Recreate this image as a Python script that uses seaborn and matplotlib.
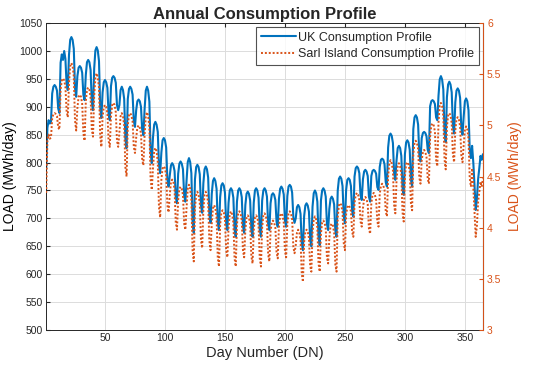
import matplotlib
matplotlib.use("Agg")
import matplotlib.pyplot as plt
import seaborn as sns
import numpy as np
import pandas as pd

# Daily UK load (MWh/day), day 1..365
uk_start = [790, 862, 876, 870, 874]
uk_weeks = [
    [924, 936, 939, 936, 929, 897, 889],
    [979, 994, 984, 1000, 986, 941, 930],
    [993, 1020, 1025, 1020, 1004, 934, 918],
    [955, 970, 973, 970, 961, 921, 912],
    [957, 980, 984, 980, 966, 908, 894],
    [969, 1001, 1007, 1001, 982, 899, 880],
    [926, 944, 948, 944, 934, 887, 876],
    [937, 952, 955, 952, 943, 903, 894],
    [903, 930, 936, 930, 914, 843, 826],
    [914, 932, 936, 932, 922, 875, 864],
    [894, 910, 913, 910, 900, 859, 849],
    [895, 929, 936, 929, 909, 820, 799],
    [845, 868, 873, 868, 855, 795, 781],
    [818, 840, 844, 840, 827, 770, 757],
    [777, 795, 799, 795, 785, 738, 727],
    [780, 798, 802, 798, 788, 741, 730],
    [768, 801, 808, 801, 781, 694, 674],
    [770, 792, 796, 792, 779, 723, 710],
    [763, 788, 793, 788, 773, 707, 692],
    [744, 767, 772, 767, 753, 693, 679],
    [738, 759, 763, 759, 746, 692, 679],
    [728, 750, 754, 750, 737, 680, 667],
    [730, 750, 754, 750, 738, 686, 674],
    [724, 744, 748, 744, 732, 679, 667],
    [728, 750, 754, 750, 737, 680, 667],
    [732, 750, 754, 750, 739, 690, 679],
    [727, 742, 745, 742, 733, 694, 685],
    [735, 753, 757, 753, 743, 696, 685],
    [740, 757, 760, 757, 746, 702, 692],
    [700, 720, 724, 720, 708, 655, 643],
    [704, 723, 727, 723, 712, 662, 650],
    [721, 745, 750, 745, 730, 667, 652],
    [732, 750, 754, 750, 739, 690, 679],
    [717, 735, 739, 735, 725, 678, 667],
    [750, 771, 775, 771, 758, 704, 691],
    [751, 769, 772, 769, 758, 713, 703],
    [775, 790, 793, 790, 781, 742, 733],
    [770, 784, 787, 784, 776, 739, 730],
    [776, 785, 787, 785, 780, 756, 751],
    [792, 805, 807, 805, 797, 765, 757],
    [827, 848, 852, 848, 835, 781, 769],
    [804, 826, 830, 826, 812, 755, 742],
    [815, 836, 840, 836, 823, 769, 757],
    [860, 881, 885, 881, 868, 814, 802],
    [844, 853, 855, 853, 847, 823, 817],
    [901, 910, 912, 910, 905, 881, 876],
    [920, 949, 955, 949, 931, 855, 837],
    [917, 940, 945, 940, 926, 866, 852],
    [908, 929, 933, 929, 916, 862, 850],
    [883, 910, 915, 910, 894, 824, 808],
    [830, 800, 760, 715, 735, 770, 790],
]
uk_end = [812, 805, 815]

# Daily Sarl Island load (MWh/day), day 1..365
isl_start = [4.34, 4.85, 4.91, 4.87, 4.88]
isl_weeks = [
    [5.07, 5.11, 5.12, 5.11, 5.09, 4.98, 4.96],
    [5.35, 5.44, 5.46, 5.44, 5.38, 5.14, 5.08],
    [5.41, 5.58, 5.61, 5.58, 5.48, 5.05, 4.95],
    [5.17, 5.28, 5.30, 5.28, 5.21, 4.92, 4.85],
    [5.23, 5.35, 5.37, 5.35, 5.27, 4.96, 4.89],
    [5.29, 5.47, 5.51, 5.47, 5.37, 4.90, 4.79],
    [5.08, 5.18, 5.20, 5.18, 5.12, 4.85, 4.79],
    [5.09, 5.20, 5.22, 5.20, 5.13, 4.85, 4.79],
    [4.93, 5.09, 5.12, 5.09, 5.00, 4.59, 4.50],
    [5.00, 5.10, 5.12, 5.10, 5.04, 4.79, 4.73],
    [4.88, 4.98, 5.00, 4.98, 4.92, 4.67, 4.61],
    [4.90, 5.09, 5.13, 5.09, 4.98, 4.48, 4.37],
    [4.58, 4.75, 4.78, 4.75, 4.64, 4.20, 4.10],
    [4.47, 4.58, 4.60, 4.58, 4.51, 4.22, 4.15],
    [4.32, 4.45, 4.47, 4.45, 4.37, 4.05, 3.98],
    [4.27, 4.38, 4.40, 4.38, 4.32, 4.04, 3.98],
    [4.20, 4.38, 4.42, 4.38, 4.27, 3.78, 3.67],
    [4.19, 4.32, 4.35, 4.32, 4.24, 3.88, 3.80],
    [4.18, 4.32, 4.35, 4.32, 4.24, 3.87, 3.78],
    [4.04, 4.19, 4.22, 4.19, 4.10, 3.71, 3.62],
    [4.03, 4.15, 4.17, 4.15, 4.08, 3.78, 3.71],
    [4.00, 4.13, 4.16, 4.13, 4.05, 3.70, 3.62],
    [4.03, 4.14, 4.16, 4.14, 4.07, 3.78, 3.71],
    [3.98, 4.10, 4.12, 4.10, 4.03, 3.72, 3.65],
    [3.97, 4.10, 4.12, 4.10, 4.02, 3.70, 3.62],
    [4.00, 4.12, 4.14, 4.12, 4.05, 3.74, 3.67],
    [3.96, 4.05, 4.07, 4.05, 4.00, 3.76, 3.70],
    [4.01, 4.12, 4.14, 4.12, 4.05, 3.77, 3.71],
    [4.04, 4.14, 4.16, 4.14, 4.08, 3.81, 3.75],
    [3.83, 3.95, 3.98, 3.95, 3.88, 3.55, 3.47],
    [3.86, 3.96, 3.98, 3.96, 3.90, 3.63, 3.57],
    [3.95, 4.08, 4.11, 4.08, 4.00, 3.65, 3.57],
    [3.94, 4.05, 4.07, 4.05, 3.99, 3.71, 3.65],
    [3.90, 4.02, 4.04, 4.02, 3.95, 3.64, 3.57],
    [4.10, 4.22, 4.24, 4.22, 4.15, 3.85, 3.78],
    [4.13, 4.20, 4.22, 4.20, 4.16, 3.96, 3.91],
    [4.24, 4.32, 4.34, 4.32, 4.27, 4.06, 4.01],
    [4.19, 4.28, 4.30, 4.28, 4.23, 3.99, 3.94],
    [4.24, 4.32, 4.34, 4.32, 4.27, 4.06, 4.01],
    [4.33, 4.41, 4.43, 4.41, 4.37, 4.16, 4.11],
    [4.50, 4.63, 4.66, 4.63, 4.56, 4.22, 4.14],
    [4.46, 4.60, 4.63, 4.60, 4.52, 4.15, 4.06],
    [4.50, 4.62, 4.64, 4.62, 4.55, 4.24, 4.17],
    [4.72, 4.83, 4.85, 4.83, 4.77, 4.49, 4.43],
    [4.66, 4.74, 4.76, 4.74, 4.69, 4.48, 4.43],
    [4.89, 5.00, 5.02, 5.00, 4.94, 4.66, 4.60],
    [5.03, 5.19, 5.22, 5.19, 5.09, 4.67, 4.57],
    [4.98, 5.10, 5.12, 5.10, 5.02, 4.71, 4.64],
    [4.95, 5.06, 5.08, 5.06, 4.99, 4.71, 4.64],
    [4.81, 4.96, 4.99, 4.96, 4.87, 4.49, 4.40],
    [4.58, 4.40, 4.15, 3.91, 4.02, 4.25, 4.35],
]
isl_end = [4.45, 4.40, 4.48]

uk = uk_start + [v for w in uk_weeks for v in w] + uk_end
isl = isl_start + [v for w in isl_weeks for v in w] + isl_end
days = list(range(1, len(uk) + 1))

df = pd.DataFrame({"day": days, "uk": uk, "isl": isl})

sns.set_style("white")
plt.rcParams['font.family'] = ['Liberation Sans', 'DejaVu Sans']

BLUE = "#0072BD"
ORANGE = "#D95319"
AXC = "#262626"

fig = plt.figure(figsize=(5.5, 3.67), dpi=100)
ax = fig.add_axes([0.084, 0.101, 0.794, 0.836])
ax2 = ax.twinx()

sns.lineplot(data=df, x="day", y="uk", ax=ax, color=BLUE, linewidth=1.5,
             label="UK Consumption Profile", legend=False)
sns.lineplot(data=df, x="day", y="isl", ax=ax2, color=ORANGE, linewidth=1.4,
             linestyle=(0, (1, 1)), label="Sarl Island Consumption Profile", legend=False)

ax.set_xlim(1, 365)
ax.set_ylim(500, 1050)
ax.set_yticks(np.arange(500, 1051, 50))
ax.set_xticks(np.arange(50, 351, 50))
ax2.set_ylim(3, 6)
ax2.set_yticks(np.arange(3, 6.01, 0.5))
ax2.set_yticklabels(["3", "3.5", "4", "4.5", "5", "5.5", "6"])

ax.grid(True, color="#dcdcdc", linewidth=0.7)
ax.set_axisbelow(True)

ax.tick_params(axis="both", direction="in", length=3, labelsize=7.5, colors=AXC,
               top=True, pad=2.5)
ax.tick_params(axis="y", right=False)
ax2.tick_params(axis="y", direction="in", length=3, labelsize=7.5, colors=ORANGE, pad=3)

for s in ["left", "bottom", "top"]:
    ax.spines[s].set_color(AXC)
    ax.spines[s].set_linewidth(0.7)
ax2.spines["right"].set_color(ORANGE)
ax2.spines["right"].set_linewidth(0.7)
for s in ["left", "bottom", "top"]:
    ax2.spines[s].set_visible(False)

ax.set_xlabel("Day Number (DN)", fontsize=10.5, color=AXC, labelpad=2)
ax.set_ylabel("LOAD (MWh/day)", fontsize=10, color="black", labelpad=2)
ax2.set_ylabel("LOAD (MWh/day)", fontsize=10, color=ORANGE, labelpad=5)
ax.set_title("Annual Consumption Profile", fontsize=12, fontweight="bold", pad=3)

h1, l1 = ax.get_legend_handles_labels()
h2, l2 = ax2.get_legend_handles_labels()
leg = ax2.legend(h1 + h2, l1 + l2, loc="upper right", fontsize=9,
                 frameon=True, fancybox=False, edgecolor="#262626",
                 borderaxespad=0.35, handlelength=2.8, handletextpad=0.2,
                 borderpad=0.35, labelspacing=0.35)
leg.get_frame().set_linewidth(0.8)

fig.savefig("out.png", dpi=100)
